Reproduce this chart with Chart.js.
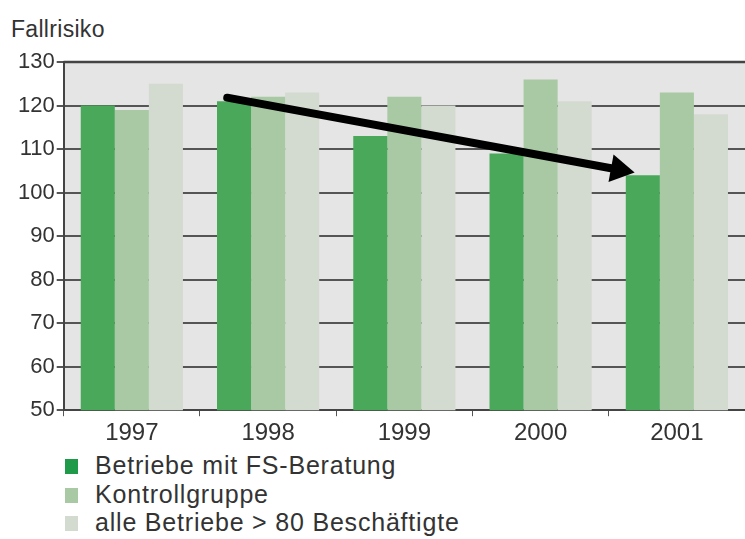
<!DOCTYPE html>
<html>
<head>
<meta charset="utf-8">
<script src="https://cdn.jsdelivr.net/npm/chart.js@4.4.0/dist/chart.umd.min.js"></script>
<style>
  html, body { margin: 0; padding: 0; background: #fff; }
  #wrap { position: relative; width: 745px; height: 539px; overflow: hidden; font-family: "Liberation Sans", Arial, sans-serif; color: #333; }
  #chartBox { position: absolute; left: 0; top: 0; width: 745px; height: 451px; }
  #ytitle { position: absolute; left: 11px; top: 15px; font-size: 23px; letter-spacing: 0.3px; line-height: 28px; }
  #legend { position: absolute; left: 65px; top: 451px; font-size: 25px; letter-spacing: 0.8px; }
  .item { height: 28.5px; line-height: 28px; white-space: nowrap; }
  .item span.box { display: inline-block; width: 13px; height: 15px; margin-right: 17px; vertical-align: 0px; }
</style>
</head>
<body>
<div id="wrap">
  <div id="ytitle">Fallrisiko</div>
  <div id="chartBox"><canvas id="chart"></canvas></div>
  <div id="legend"></div>
</div>
<script>
// Daten
const years = ['1997', '1998', '1999', '2000', '2001'];
const fsBeratung = [120, 121, 113, 109, 104];
const kontrollgruppe = [119, 122, 122, 126, 123];
const alleBetriebe = [125, 123, 120, 121, 118];
const seriesNames = ['Betriebe mit FS-Beratung', 'Kontrollgruppe', 'alle Betriebe > 80 Beschäftigte'];
const yTicks = [50, 60, 70, 80, 90, 100, 110, 120, 130];

// Pfeil: [Kategorie-Index, Wert] für Start und Spitze
const arrowStart = [0.70, 121.8];
const arrowEnd = [3.69, 104.6];

const COLORS = {
    dark: '#4aa85a',
    mid: '#a9c9a4',
    light: '#d3dbd0',
    plotBg: '#e5e5e5',
    grid: '#555555',
    text: '#333333'
};

// Hintergrund der Zeichenfläche + obere Linie
const plotBackground = {
    id: 'plotBackground',
    beforeDraw(chart) {
        const { ctx, chartArea: a } = chart;
        ctx.save();
        ctx.fillStyle = COLORS.plotBg;
        ctx.fillRect(a.left, a.top, a.right - a.left, a.bottom - a.top);
        ctx.restore();
    },
    afterDraw(chart) {
        const { ctx, chartArea: a } = chart;
        ctx.save();
        ctx.strokeStyle = '#444';
        ctx.lineWidth = 2.5;
        ctx.beginPath();
        ctx.moveTo(a.left, a.top);
        ctx.lineTo(a.right, a.top);
        ctx.stroke();
        ctx.restore();
    }
};

// Trendpfeil
const trendArrow = {
    id: 'trendArrow',
    afterDatasetsDraw(chart) {
        const { ctx, scales: { x, y } } = chart;
        const step = x.getPixelForValue(1) - x.getPixelForValue(0);
        const x1 = x.getPixelForValue(0) + arrowStart[0] * step;
        const y1 = y.getPixelForValue(arrowStart[1]);
        const x2 = x.getPixelForValue(0) + arrowEnd[0] * step;
        const y2 = y.getPixelForValue(arrowEnd[1]);
        const ang = Math.atan2(y2 - y1, x2 - x1);
        const headLen = 24, headW = 14;
        const bx = x2 - headLen * Math.cos(ang);
        const by = y2 - headLen * Math.sin(ang);
        ctx.save();
        ctx.strokeStyle = '#000';
        ctx.fillStyle = '#000';
        ctx.lineWidth = 8;
        ctx.lineCap = 'round';
        ctx.beginPath();
        ctx.moveTo(x1, y1);
        ctx.lineTo(bx, by);
        ctx.stroke();
        ctx.beginPath();
        ctx.moveTo(x2, y2);
        ctx.lineTo(bx + headW * Math.sin(ang), by - headW * Math.cos(ang));
        ctx.lineTo(bx - headW * Math.sin(ang), by + headW * Math.cos(ang));
        ctx.closePath();
        ctx.fill();
        ctx.restore();
    }
};

const barColors = [COLORS.dark, COLORS.mid, COLORS.light];
const seriesData = [fsBeratung, kontrollgruppe, alleBetriebe];

new Chart(document.getElementById('chart'), {
    type: 'bar',
    data: {
        labels: years,
        datasets: seriesData.map((d, i) => ({
            label: seriesNames[i],
            data: d,
            backgroundColor: barColors[i],
            borderWidth: 0,
            barPercentage: 1.0,
            categoryPercentage: 0.75
        }))
    },
    options: {
        responsive: true,
        maintainAspectRatio: false,
        animation: false,
        layout: { padding: { left: 16, right: 0, top: 62, bottom: 0 } },
        plugins: {
            legend: { display: false },
            tooltip: { enabled: false }
        },
        scales: {
            y: {
                min: 50,
                max: 130,
                afterBuildTicks(scale) { scale.ticks = yTicks.map(v => ({ value: v })); },
                ticks: { color: COLORS.text, font: { size: 22, family: '"Liberation Sans", Arial, sans-serif' }, padding: 2 },
                grid: { color: COLORS.grid, lineWidth: 2, tickLength: 7, drawTicks: true },
                border: { color: '#444', width: 2 }
            },
            x: {
                ticks: { color: COLORS.text, font: { size: 24, family: '"Liberation Sans", Arial, sans-serif' }, padding: 3 },
                grid: { drawOnChartArea: false, tickLength: 6, color: '#555' },
                border: { color: '#444', width: 2 }
            }
        }
    },
    plugins: [plotBackground, trendArrow]
});

// Legende
const legendEl = document.getElementById('legend');
seriesNames.forEach((name, i) => {
    const row = document.createElement('div');
    row.className = 'item';
    const box = document.createElement('span');
    box.className = 'box';
    box.style.background = i === 0 ? '#1f9a48' : barColors[i];
    row.appendChild(box);
    row.appendChild(document.createTextNode(name));
    legendEl.appendChild(row);
});
</script>
</body>
</html>
